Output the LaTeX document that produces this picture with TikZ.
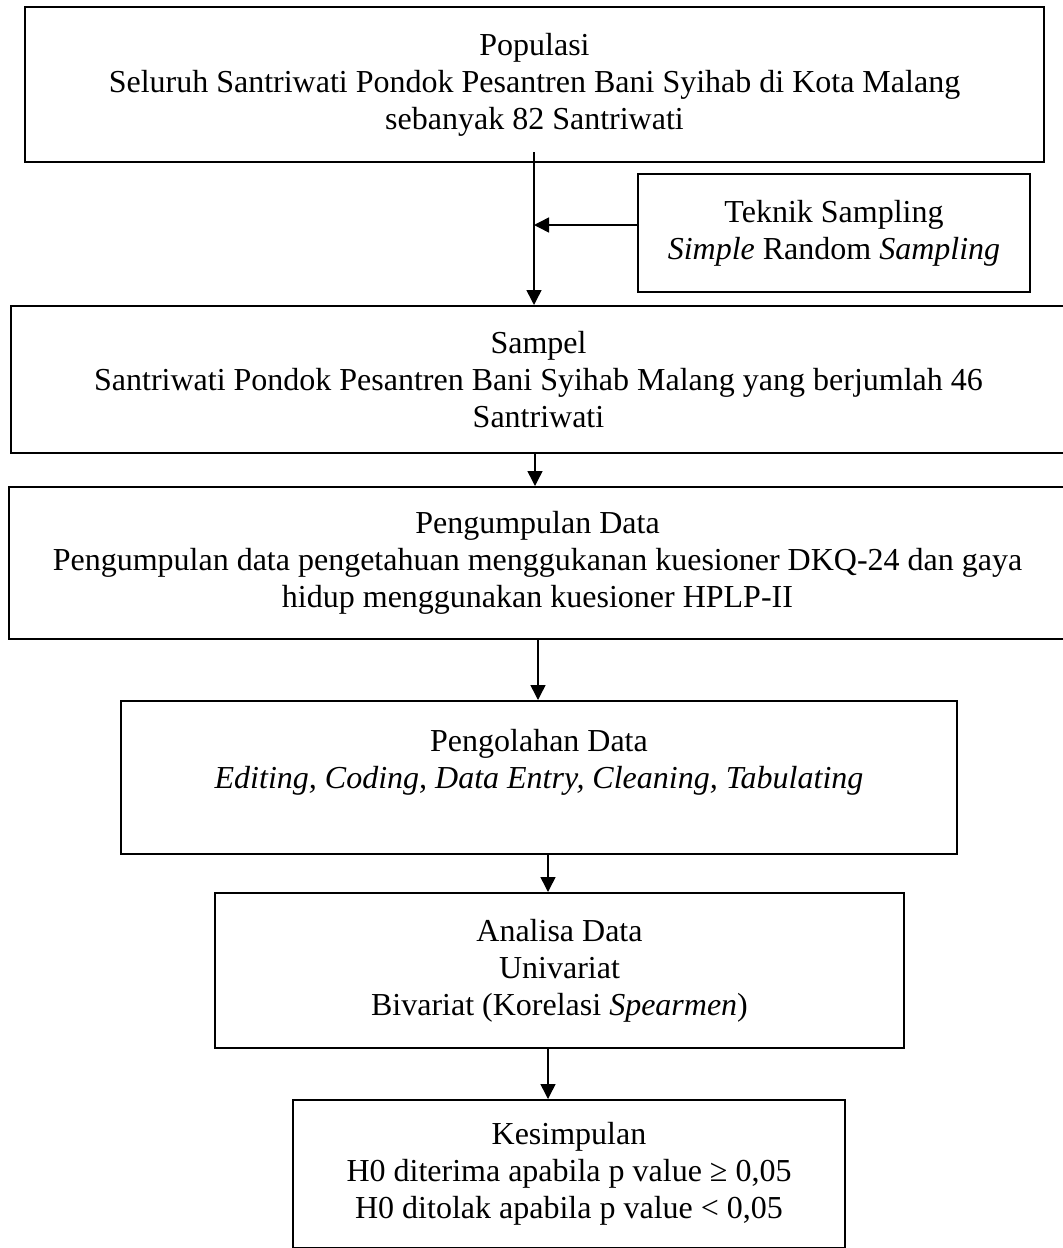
\documentclass[tikz,border=0pt]{standalone}
\usepackage{fontspec}
\setmainfont{Liberation Serif}
\usetikzlibrary{arrows.meta}

\begin{document}
\begin{tikzpicture}[x=0.5pt,y=-0.5pt,
        kotak/.style={draw,line width=1pt,align=center,inner sep=0pt,
          font=\fontsize{16}{18.5}\selectfont},
        panah/.style={line width=0.75pt,-{Triangle[length=7.5pt,width=7.5pt]}}]
        \useasboundingbox (0,0) rectangle (1062,1248) ;
        %\draw[very thin,gray,step=50] (0,0) grid (1062,1248) ;
        \node[kotak,minimum width=509.5pt,minimum height=77.5pt] (populasi) at (534.5,84.5)
        {Populasi\\ Seluruh Santriwati Pondok Pesantren Bani Syihab di Kota Malang\\ sebanyak 82 Santriwati} ;
        \node[kotak,minimum width=196pt,minimum height=59pt] (teknik) at (834,233)
        {Teknik Sampling\\ \textit{Simple} Random \textit{Sampling}} ;
        \node[kotak,minimum width=527.5pt,minimum height=73.5pt] (sampel) at (538.5,379.5)
        {Sampel\\ Santriwati Pondok Pesantren Bani Syihab Malang yang berjumlah 46\\ Santriwati} ;
        \node[kotak,minimum width=528.5pt,minimum height=76pt] (kumpul) at (537.5,563)
        {Pengumpulan Data\\ Pengumpulan data pengetahuan menggukanan kuesioner DKQ-24 dan gaya\\ hidup menggunakan kuesioner HPLP-II} ;
        \node[kotak,minimum width=418pt,minimum height=76.5pt] (olah) at (539,777.5)
        {Pengolahan Data\\ \textit{Editing, Coding, Data Entry, Cleaning, Tabulating}\\ \mbox{}} ;
        \node[kotak,minimum width=344.5pt,minimum height=77.5pt] (analisa) at (559.5,970.5)
        {Analisa Data\\ Univariat\\ Bivariat (Korelasi \textit{Spearmen})} ;
        \node[kotak,minimum width=276pt,minimum height=74pt] (simpul) at (569,1174)
        {Kesimpulan\\ H0 diterima apabila p value ≥ 0,05\\ H0 ditolak apabila p value < 0,05} ;
        % garis panah
        \coordinate (awal) at (534,152) ;
        \coordinate (temu) at (534,225) ;
        \coordinate (ka) at (535,0) ;
        \coordinate (kb) at (538,0) ;
        \coordinate (kc) at (548,0) ;
        \draw[panah] (awal) -- (awal |- sampel.north) ;
        \draw[panah] (teknik.west |- temu) -- (temu) ;
        \draw[panah] (sampel.south -| ka) -- (kumpul.north -| ka) ;
        \draw[panah] (kumpul.south -| kb) -- (olah.north -| kb) ;
        \draw[panah] (olah.south -| kc) -- (analisa.north -| kc) ;
        \draw[panah] (analisa.south -| kc) -- (simpul.north -| kc) ;
      \end{tikzpicture}
\end{document}
